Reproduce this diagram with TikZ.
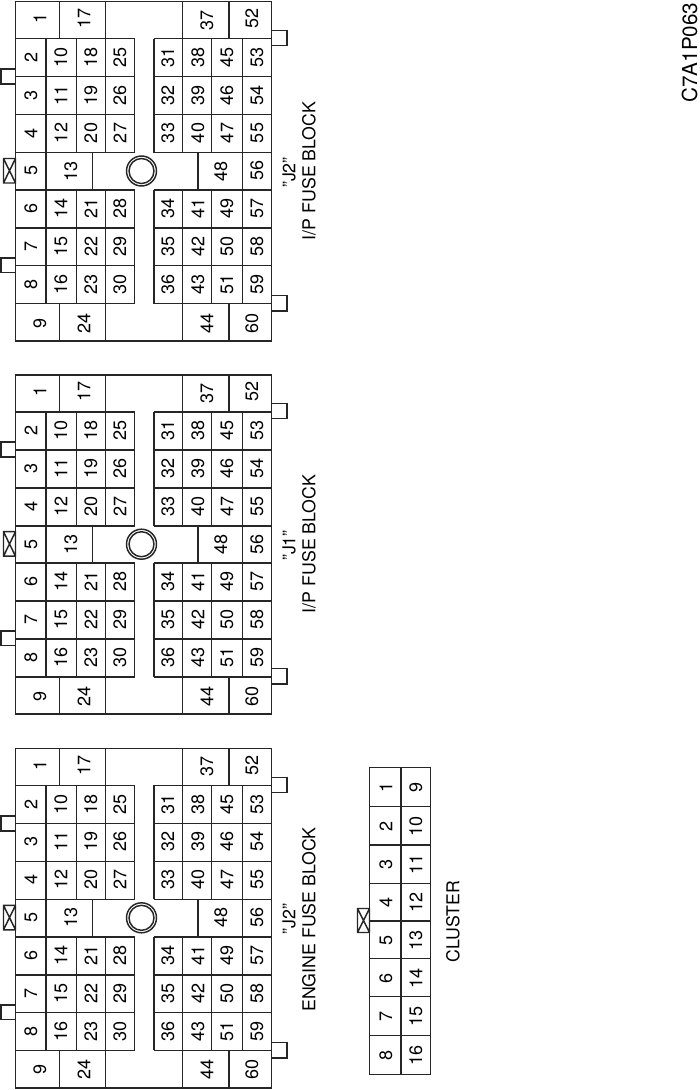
\documentclass[tikz,border=0pt]{standalone}
\usepackage{fontspec}
\setmainfont{TeX Gyre Heros}
\tikzset{
    gridline/.style={line width=1.2pt,color=black!85},
    tabline/.style={line width=1.1pt,color=black!85},
    pinnum/.style={inner sep=0pt,rotate=90,font=\fontsize{13.5}{13.5}\selectfont},
    titletext/.style={inner sep=0pt,rotate=90,font=\fontsize{13.3}{13.3}\selectfont},
    codetext/.style={inner sep=0pt,rotate=90,font=\fontsize{15.5}{15.5}\selectfont}
}
% one connector outline with its pin numbers
\newcommand{\fuseblock}[2]{%
    \begin{scope}[shift={(0,#2)},name prefix=#1-]
        % outline
        \draw[gridline] (15.5,1.5) rectangle (271.5,341);
        % rows
        \foreach \ly in {38.5,76.5,114.5,152.5,190,228,265.5,303.5}
            \draw[gridline] (15.5,\ly) -- (134.5,\ly) (154,\ly) -- (271.5,\ly);
        % columns
        \foreach \lx in {46,242.5}
            \draw[gridline] (\lx,38.5) -- (\lx,303.5);
        \foreach \lx in {76.5,134.5,154,211.5}
            \draw[gridline] (\lx,38.5) -- (\lx,152.5) (\lx,190) -- (\lx,303.5);
        \foreach \lx in {105.5,182.5}
            \draw[gridline] (\lx,1.5) -- (\lx,152.5) (\lx,190) -- (\lx,341);
        \foreach \lx in {59.5,229}
            \draw[gridline] (\lx,1.5) -- (\lx,38.5) (\lx,303.5) -- (\lx,341);
        \foreach \lx in {92.5,198}
            \draw[gridline] (\lx,152.5) -- (\lx,190);
        % centre hole
        \draw[tabline] (141.5,171) circle (15);
        \draw[tabline] (141.5,171) circle (12.5);
        % tabs
        \draw[tabline] (15.5,69) -| (1,84) -- (15.5,84);
        \draw[tabline] (15.5,258) -| (1,272.5) -- (15.5,272.5);
        \draw[tabline] (271.5,30.5) -| (287,45.5) -- (271.5,45.5);
        \draw[tabline] (271.5,295.5) -| (287,311) -- (271.5,311);
        \draw[tabline] (3.5,158.5) rectangle (15.5,183) (3.5,158.5) -- (15.5,183) (3.5,183) -- (15.5,158.5);
        % Text Node
        \foreach \cx/\nlist in {31/{2,3,4,5,6,7,8},61/{10,11,12,0,14,15,16},91/{18,19,20,0,21,22,23},120/{25,26,27,0,28,29,30},168/{31,32,33,0,34,35,36},198/{38,39,40,0,41,42,43},227/{45,46,47,0,49,50,51},257/{53,54,55,56,57,58,59}}{
            \foreach \num [count=\i] in \nlist {
                \ifnum\num>0 \node[pinnum] (p\num) at (\cx,19.5+37.83*\i) {\num}; \fi
            }
        }
        % Text Node
        \foreach \num/\cx/\cy in {1/40/18.5,17/84/18.5,37/207/20,52/252/18.5,9/40/323,24/84/323,44/207/323,60/252/323,13/71/171,48/221/171}
            \node[pinnum] (p\num) at (\cx,\cy) {\num};
    \end{scope}
}

\begin{document}
\begin{tikzpicture}[x=0.75pt,y=0.75pt,yscale=-1,xscale=1]
    \useasboundingbox (0,0) rectangle (700,1090);
    \fuseblock{ipb}{0}
    \fuseblock{ipa}{373.2}
    \fuseblock{eng}{746.8}
    %Shape: Cluster
    \draw[gridline] (369.5,767.5) rectangle (430.5,1074.5);
    \draw[gridline] (401,767.5) -- (401,1074.5);
    \foreach \ly in {806.5,845,883.5,921,958.5,996.5,1035.5}
        \draw[gridline] (369.5,\ly) -- (430.5,\ly);
    \draw[tabline] (357.5,908.5) rectangle (369.5,932.5) (357.5,908.5) -- (369.5,932.5) (357.5,932.5) -- (369.5,908.5);
    % Text Node
    \foreach \num/\cy [count=\i from 9] in {1/787,2/826,3/864,4/902,5/940,6/978,7/1016,8/1055}{
        \node[pinnum] (top\num) at (386,\cy) {\num};
        \node[pinnum] (bot\i) at (416,\cy) {\i};
    }
    % Text Node
    \node[titletext] (jtwoa) at (289,172.5) {"J2"};
    \node[titletext] (ipa) at (309,171) {I/P FUSE BLOCK};
    \node[titletext] (jone) at (289,545.5) {"J1"};
    \node[titletext] (ipb) at (309,544) {I/P FUSE BLOCK};
    \node[titletext] (jtwob) at (289,919) {"J2"};
    \node[titletext] (engine) at (309,919.5) {ENGINE FUSE BLOCK};
    \node[titletext] (cluster) at (453,921.5) {CLUSTER};
    \node[codetext] (code) at (689.5,52.5) {C7A1P063};
\end{tikzpicture}
\end{document}
